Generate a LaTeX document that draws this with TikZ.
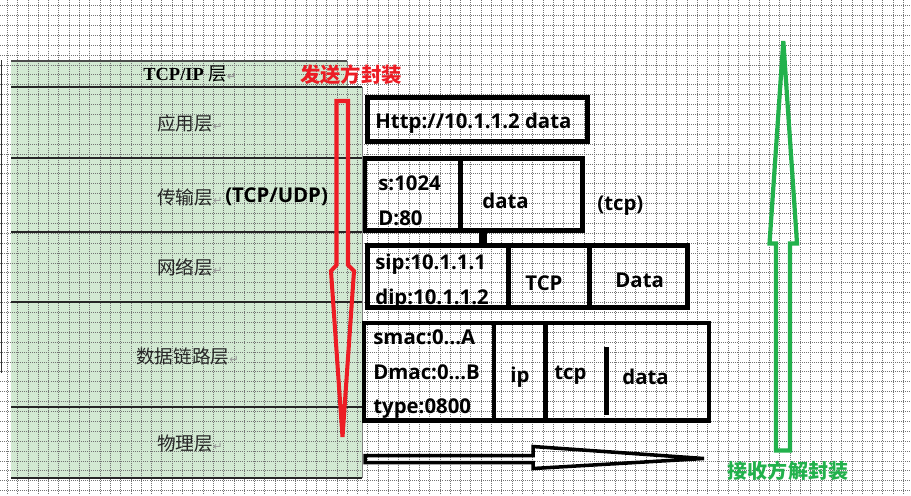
\documentclass[tikz,border=0pt]{standalone}
\usepackage{fontspec}
\usepackage{xcolor}
\usepackage{tikz}
\usetikzlibrary{positioning,calc}
\setmainfont{Liberation Serif}
\newfontfamily\cjk{Noto Sans CJK SC}
\newfontfamily\latb{Open Sans}
\newfontfamily\symb{DejaVu Sans}
\definecolor{tblgreen}{RGB}{210,233,210}
\definecolor{sendred}{RGB}{237,28,36}
\definecolor{recvgreen}{RGB}{34,177,76}
\newcommand{\ret}{{\symb\fontsize{6.5}{7}\selectfont\textcolor{gray!80}{↵}}}

\begin{document}
\begin{tikzpicture}[x=0.02cm, y=-0.02cm,
  grid line/.style={black!55, line width=0.45pt, dash pattern=on 0.5pt off 0.65pt},
  row line/.style={black!85, line width=0.8pt},
  layer/.style={font=\cjk\fontsize{10.6}{12}\selectfont, text=black!85, anchor=west, inner sep=0pt},
  cell/.style={draw, line width=2.4pt, inner sep=0pt, outer sep=0pt},
  pkt/.style={font=\latb\bfseries\fontsize{11.6}{13}\selectfont, inner sep=0pt, anchor=base west},
  hollow/.style={line width=2.3pt, line join=miter}]
\fill[white] (0,0) rectangle (911,495);
\useasboundingbox (0,0) rectangle (911,495);
\fill[tblgreen] (11,61) rectangle (347,87);
\fill[tblgreen] (11,87) rectangle (362,478);
\foreach \gx in {7.3,17.6,...,911}
  \draw[grid line] (\gx,0) -- (\gx,495);
\foreach \gy in {5.5,15.4,...,495}
  \draw[grid line] (0,\gy) -- (911,\gy);
\draw[black!70, line width=0.6pt] (11,61) -- (347,61);
\draw[gray, line width=0.5pt] (347,61) -- (347,87);
\draw[gray, line width=0.5pt] (362,87) -- (362,478);
\foreach \ry in {87,158,232,302,407,478}
  \draw[row line] (11,\ry) -- (362,\ry);
\draw[gray!40!black, line width=0.5pt] (1.5,60) -- (1.5,373);

\node[font=\bfseries\fontsize{10.5}{12}\selectfont, anchor=west, inner sep=0pt] (head) at (143,74) {TCP/IP {\cjk\mdseries 层}\ret};
\node[layer] (lapp) at (157,123) {应用层\ret};
\node[layer] (ltrans) at (157,197) {传输层\ret};
\node[pkt, right=1pt of ltrans] (ltcp) {(TCP/UDP)};
\node[layer] (lnet) at (157,267) {网络层\ret};
\node[layer] (llink) at (136,356) {数据链路层\ret};
\node[layer] (lphy) at (157,443) {物理层\ret};

\node[text=sendred, font=\cjk\bfseries\fontsize{11.6}{13}\selectfont] (send) at (351,75) {发送方封装};
\draw[hollow, sendred] (336.5,101) -- (348,101) -- (348,265) -- (354,271) -- (342.5,437) -- (331,271) -- (336.5,265) -- cycle;

\node[cell, anchor=north west, minimum width=4.4cm, minimum height=0.88cm] (app) at (367.5,97.5) {};
\node[cell, anchor=north west, minimum width=1.91cm, minimum height=1.44cm] (tport) at (365,158.5) {};
\node[cell, right=0pt of tport, minimum width=2.44cm, minimum height=1.44cm] (tdata) {};
\node[cell, anchor=north west, minimum width=2.82cm, minimum height=1.24cm] (nip) at (367.5,245.5) {};
\node[cell, right=0pt of nip, minimum width=1.62cm, minimum height=1.24cm] (ntcp) {};
\node[cell, right=0pt of ntcp, minimum width=1.96cm, minimum height=1.24cm] (ndata) {};
\node[cell, anchor=north west, minimum width=2.6cm, minimum height=1.95cm] (lmac) at (364,323) {};
\node[cell, right=0pt of lmac, minimum width=1.03cm, minimum height=1.95cm] (lip) {};
\node[cell, right=0pt of lip, minimum width=3.27cm, minimum height=1.95cm] (lrest) {};
\draw[line width=2.4pt] ($(lrest.north west)+(61,24)$) -- ($(lrest.south west)+(61,-5)$);
\draw[line width=4.5pt] ($(tdata.south west)+(22.5,0)$) -- ($(nip.north west)+(115.5,0)$);

\node[pkt] (t1) at (375,128) {Http://10.1.1.2 data};
\node[pkt] (t2a) at (378,190) {s:1024};
\node[pkt] (t2b) at (378,225) {D:80};
\node[pkt] (t2c) at (482,208) {data};
\node[pkt] (t2d) at (597,210) {(tcp)};
\node[pkt] (t3a) at (375,269) {sip:10.1.1.1};
\node[pkt] (t3b) at (375,304) {dip:10.1.1.2};
\node[pkt] (t3c) at (525,290) {TCP};
\node[pkt] (t3d) at (615,287) {Data};
\node[pkt] (t4a) at (373,344) {smac:0...A};
\node[pkt] (t4b) at (373,379) {Dmac:0...B};
\node[pkt] (t4c) at (373,413) {type:0800};
\node[pkt] (t4d) at (510,382) {ip};
\node[pkt] (t4e) at (554,379) {tcp};
\node[pkt] (t4f) at (622,384) {data};

\draw[hollow, line width=2pt] (365,455.5) -- (533,455.5) -- (533,446.5) -- (704,458.5) -- (533,468.5) -- (533,462.5) -- (365,462.5) -- cycle;
\draw[hollow, recvgreen, line width=2.4pt] (776,450.5) -- (790,450.5) -- (790,243.5) -- (797,243.5) -- (783.3,41) -- (769.5,243.5) -- (776,243.5) -- cycle;
\node[text=recvgreen, font=\cjk\bfseries\fontsize{11.4}{13}\selectfont] (recv) at (788,471) {接收方解封装};
\end{tikzpicture}
\end{document}
